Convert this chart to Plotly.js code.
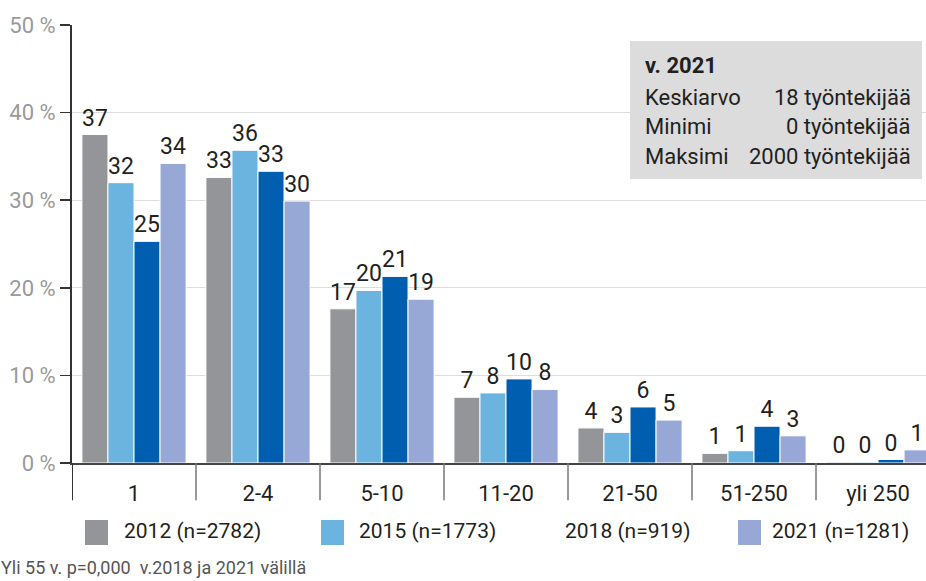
<!DOCTYPE html>
<html>
<head>
<meta charset="utf-8">
<script src="https://cdn.plot.ly/plotly-3.0.1.min.js"></script>
<style>
  html, body { margin: 0; padding: 0; background: #fff; }
  #chart { width: 926px; height: 581px; }
</style>
</head>
<body>
<div id="chart"></div>
<script>
// Kategoriat (työntekijämäärä)
const categories = ['1', '2-4', '5-10', '11-20', '21-50', '51-250', 'yli 250'];

// Sarjat (%)
const seriesNames = ['2012 (n=2782)', '2015 (n=1773)', '2018 (n=919)', '2021 (n=1281)'];
const values2012 = [37.5, 32.6, 17.6, 7.5, 4.0, 1.1, 0.1];
const values2015 = [32.0, 35.7, 19.7, 8.0, 3.5, 1.4, 0.1];
const values2018 = [25.3, 33.3, 21.3, 9.6, 6.4, 4.2, 0.4];
const values2021 = [34.2, 29.9, 18.7, 8.4, 4.9, 3.1, 1.5];

// Pylväiden päällä näkyvät arvot
const labels2012 = ['37', '33', '17', '7', '4', '1', '0'];
const labels2015 = ['32', '36', '20', '8', '3', '1', '0'];
const labels2018 = ['25', '33', '21', '10', '6', '4', '0'];
const labels2021 = ['34', '30', '19', '8', '5', '3', '1'];

const colors = ['#939598', '#6cb4e0', '#005eb0', '#97a8d6'];

// Tietolaatikko
const boxTitle = 'v. 2021';
const boxLabels = ['Keskiarvo', 'Minimi', 'Maksimi'];
const boxValues = ['18 työntekijää', '0 työntekijää', '2000 työntekijää'];

const footnote = 'Yli 55 v. p=0,000  v.2018 ja 2021 välillä';

const FONT = 'Roboto, "Noto Sans", sans-serif';
const allValues = [values2012, values2015, values2018, values2021];
const allLabels = [labels2012, labels2015, labels2018, labels2021];

const data = allValues.map((vals, i) => ({
    type: 'bar',
    x: categories,
    y: vals,
    name: seriesNames[i],
    text: allLabels[i],
    textposition: 'outside',
    textfont: { size: 23, color: '#231f20', family: FONT },
    cliponaxis: false,
    marker: { color: colors[i], line: { color: '#ffffff', width: 1 } },
    hoverinfo: 'skip',
    showlegend: false
}));

// Apuviivat x-akselin alle (kategorioiden rajat)
const shapes = [];
const below = -0.085;
for (let i = 0; i <= categories.length; i++) {
    shapes.push({
        type: 'line', xref: 'x', yref: 'paper',
        x0: i - 0.5, x1: i - 0.5, y0: 0, y1: below,
        line: { color: i === 0 ? '#333333' : '#777777', width: i === 0 ? 2 : 1.5 }
    });
}

// Tietolaatikon tausta
shapes.push({
    type: 'rect', xref: 'paper', yref: 'paper',
    x0: 558 / 854, x1: 850 / 854, y0: (463 - 179) / 438, y1: (463 - 41) / 438,
    fillcolor: '#dcdcdd', line: { width: 0 }, layer: 'above'
});

const annotations = [];
annotations.push({
    xref: 'paper', yref: 'paper', x: 571 / 854, y: (463 - 66) / 438,
    xanchor: 'left', yanchor: 'middle', showarrow: false,
    text: '<b>' + boxTitle + '</b>', font: { size: 22, color: '#231f20', family: FONT }
});
boxLabels.forEach((lab, i) => {
    const yy = (463 - (97 + i * 29.5)) / 438;
    annotations.push({
        xref: 'paper', yref: 'paper', x: 571 / 854, y: yy,
        xanchor: 'left', yanchor: 'middle', showarrow: false,
        text: lab, font: { size: 22, color: '#231f20', family: FONT }
    });
    annotations.push({
        xref: 'paper', yref: 'paper', x: 841 / 854, y: yy,
        xanchor: 'right', yanchor: 'middle', showarrow: false,
        text: boxValues[i], font: { size: 22, color: '#231f20', family: FONT }
    });
});

// Selite käsin (2018:lla ei näy värilaatikkoa)
const legendSwatchX = [85, 321, null, 738];
const legendTextX = [122, 357, 563, 770];
seriesNames.forEach((nm, i) => {
    const yc = (463 - 531) / 438;
    if (legendSwatchX[i] !== null) {
        shapes.push({
            type: 'rect', xref: 'paper', yref: 'paper',
            x0: (legendSwatchX[i] - 72) / 854, x1: (legendSwatchX[i] + 23 - 72) / 854,
            y0: (463 - 545) / 438, y1: (463 - 520) / 438,
            fillcolor: colors[i], line: { width: 0 }
        });
    }
    annotations.push({
        xref: 'paper', yref: 'paper', x: (legendTextX[i] - 72) / 854, y: yc,
        xanchor: 'left', yanchor: 'middle', showarrow: false,
        text: nm, font: { size: 21, color: '#231f20', family: FONT }
    });
});

// Alaviite: ankkuroitu alareunan yläpuolelle, jotta teksti ei leikkaudu
annotations.push({
    xref: 'paper', yref: 'paper', x: -72 / 854, y: (463 - 579) / 438,
    xanchor: 'left', yanchor: 'bottom', showarrow: false,
    borderpad: 0,
    text: footnote, font: { size: 18, color: '#555555', family: FONT }
});

const layout = {
    width: 926,
    height: 581,
    margin: { l: 72, r: 0, t: 25, b: 118 },
    paper_bgcolor: '#ffffff',
    plot_bgcolor: '#ffffff',
    font: { family: FONT, color: '#231f20' },
    barmode: 'group',
    bargap: 0.16,
    bargroupgap: 0,
    showlegend: false,
    xaxis: {
        type: 'category',
        range: [-0.5, 6.387],
        showline: true,
        linecolor: '#444444',
        linewidth: 2,
        ticks: '',
        showgrid: false,
        tickfont: { size: 22, color: '#231f20', family: FONT },
        ticklabelstandoff: 10,
        fixedrange: true
    },
    yaxis: {
        range: [0, 50],
        dtick: 10,
        ticksuffix: ' %',
        showline: true,
        linecolor: '#333333',
        linewidth: 2,
        ticks: 'outside',
        ticklen: 10,
        tickcolor: '#333333',
        tickwidth: 1.5,
        showgrid: true,
        gridcolor: '#dddddd',
        gridwidth: 1,
        zeroline: false,
        tickfont: { size: 22, color: '#9a9a9a', family: FONT },
        ticklabelstandoff: 0,
        fixedrange: true
    },
    shapes: shapes,
    annotations: annotations
};

Plotly.newPlot('chart', data, layout, { displayModeBar: false, staticPlot: true });
</script>
</body>
</html>
